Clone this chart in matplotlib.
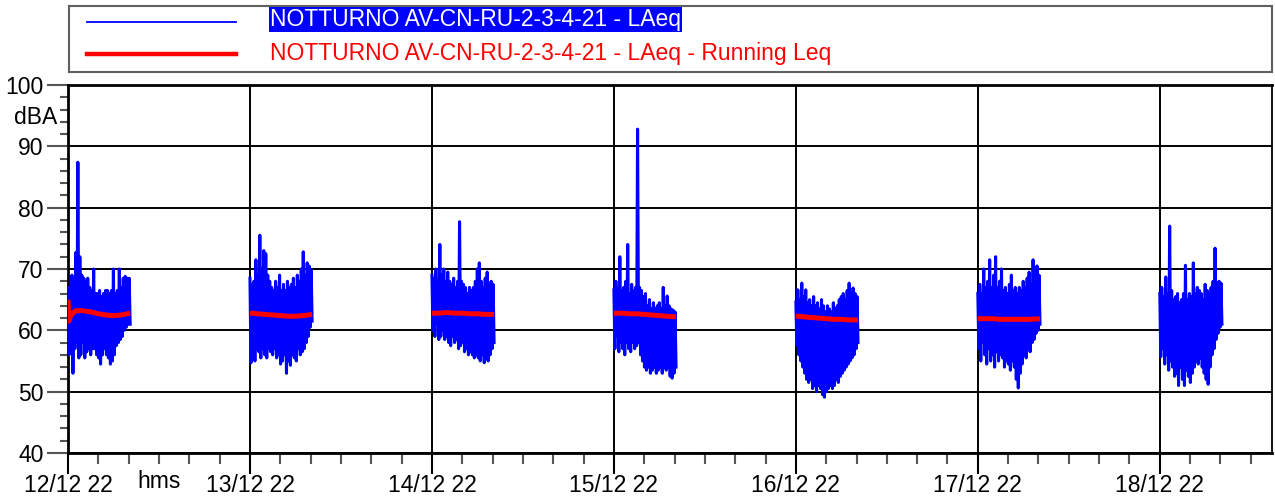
import numpy as np
import matplotlib

matplotlib.use("Agg")
import matplotlib.pyplot as plt
from matplotlib.ticker import MultipleLocator

plt.rcParams["font.family"] = ["Liberation Sans", "DejaVu Sans"]

# --- data (hours from 12/12 00:00) ------------------------------------------
DAY_LABELS = ["12/12 22", "13/12 22", "14/12 22", "15/12 22",
              "16/12 22", "17/12 22", "18/12 22"]
NIGHT_SPAN_H = 8.2
SERIES_LAEQ = "NOTTURNO AV-CN-RU-2-3-4-21 - LAeq"
SERIES_RLEQ = "NOTTURNO AV-CN-RU-2-3-4-21 - LAeq - Running Leq"

# LAeq, upper / lower swings for each night
LAEQ_HI = [
    [67, 66, 69, 68, 72.7, 87.4, 72, 69, 68.5, 68, 68.5, 67, 66.5, 70, 66, 66,
     66.5, 65.5, 66, 66.5, 66.5, 66, 66.5, 70, 66, 66.5, 70, 67, 68.5, 68.8, 68.5, 68.5],
    [68.5, 67.5, 68, 71.5, 69, 75.5, 70, 73, 72.5, 69, 68, 67, 66.5, 68, 67, 69,
     66.5, 67.5, 66.5, 68, 67, 67.5, 68.5, 67, 69, 68, 70, 72.8, 69, 71, 70.5, 69.8],
    [69, 68.5, 70, 68, 74, 69, 70, 68, 69.5, 68, 67.5, 68.5, 67, 68, 77.7, 68,
     67.5, 67, 66, 67, 66.5, 67, 68, 70, 71, 68, 67, 68.5, 69.5, 67.5, 68, 67.5],
    [66.6, 68, 67, 72, 66.5, 67, 68, 74, 66, 67.5, 66.5, 67, 92.8, 67, 66.5, 65.5,
     66, 64, 65, 63.5, 64.5, 63.5, 64, 64.5, 63.5, 67, 64, 65.6, 64, 63.5, 63.3, 63],
    [64.6, 66.6, 65, 67.7, 65.5, 66.6, 64.5, 65, 64, 65.5, 64, 64.5, 63.5, 65, 64, 63,
     64, 63.5, 63, 64.5, 63.5, 64, 65, 65.5, 66, 65, 66.5, 67.7, 66, 66.9, 66, 65.5],
    [66, 67.5, 66, 70, 67, 68, 71.5, 67, 69, 72, 67, 68, 70, 66.5, 67, 66,
     67.5, 69, 66.5, 67, 66, 67, 66.5, 68, 67, 68.5, 69.5, 67.5, 71.5, 68, 70.5, 69],
    [66, 67, 65.5, 68.7, 66, 77, 66.5, 65, 65.5, 66, 64.5, 65, 66, 70.6, 65, 66,
     65.5, 71, 66, 67, 66.5, 66, 65, 67.5, 66.5, 66, 67, 68, 73.4, 67.5, 68, 67.7],
]
LAEQ_LO = [
    [56, 60, 53, 57, 58, 55.5, 56, 58, 55.5, 56.5, 57, 56, 57, 57, 56, 55.5,
     54.5, 56, 57, 56, 55.5, 54.5, 55, 56, 57.5, 58, 58.5, 59, 60, 60.5, 61, 61],
    [54.7, 56, 55, 57, 56.5, 55.5, 57, 56, 55.5, 57, 56.5, 56, 57, 55.5, 56, 54.5,
     55, 56, 53, 55, 54.3, 56, 55.5, 55, 57, 56, 56.5, 57, 58, 59, 60.5, 61.5],
    [60, 59, 61, 58.5, 59, 60, 58.5, 59, 58, 57.5, 59, 58, 58.5, 57, 57.5, 58,
     56.5, 57, 56, 56.5, 56, 55.5, 56, 55.5, 55, 56, 54.7, 55.5, 55, 56, 57, 58],
    [57, 59, 56.5, 58, 57, 56, 58, 57, 56.5, 58, 57, 57.5, 58, 56, 55, 54,
     53.5, 54, 53, 53.5, 54, 53, 53.5, 54, 53, 54, 53.5, 54, 52.5, 52.2, 53, 54],
    [57.5, 56, 55, 54, 53, 52, 51.5, 52, 50.5, 51, 50, 51, 50.5, 49.5, 49.1, 50,
     50.5, 51, 50.5, 51, 52, 51.5, 52.5, 53, 53.5, 54, 54.5, 55, 55.5, 56, 57, 58],
    [57, 55, 58, 56, 54.5, 57, 55, 56, 54, 56.5, 55, 56, 55.5, 54, 55, 54.5,
     53.5, 55, 54, 52, 50.6, 53, 54.5, 56, 55.5, 57, 56.5, 58, 58.5, 59.5, 60, 61],
    [55.7, 57, 54.5, 56, 53.5, 55, 54, 52.5, 53, 51, 54, 52, 51, 53.5, 52.5, 51.5,
     53, 54, 55, 54.5, 55.5, 54, 53, 52, 51.2, 54, 56, 57, 58.5, 59.5, 60.5, 61],
]

# running Leq, hours after start of each night
RLEQ_T = [0.0, 0.1, 0.4, 1.0, 2.0, 3.0, 4.0, 5.0, 6.0, 7.0, 8.2]
RLEQ_V = [
    [65.0, 61.5, 62.5, 63.2, 63.2, 63.0, 62.7, 62.5, 62.4, 62.5, 62.8],
    [62.8, 62.8, 62.8, 62.7, 62.6, 62.5, 62.4, 62.3, 62.3, 62.4, 62.6],
    [62.8, 62.8, 62.8, 62.8, 62.9, 62.8, 62.8, 62.7, 62.7, 62.6, 62.6],
    [62.8, 62.8, 62.8, 62.8, 62.7, 62.7, 62.6, 62.5, 62.4, 62.3, 62.2],
    [62.3, 62.3, 62.3, 62.2, 62.1, 62.0, 61.9, 61.8, 61.8, 61.7, 61.7],
    [61.9, 61.9, 61.9, 61.9, 61.9, 61.8, 61.8, 61.8, 61.8, 61.8, 61.9],
]

X_MAX_H = 158.8
W, H = 1275, 498
FS = 16.5


def main():
    fig = plt.figure(figsize=(W / 100, H / 100), dpi=100)
    ax = fig.add_axes([68 / W, 1 - 453 / H, (1272 - 68) / W, (453 - 85) / H])

    for night, (hi, lo) in enumerate(zip(LAEQ_HI, LAEQ_LO)):
        vals = np.ravel(np.column_stack([hi, lo]))
        t = 24 * night + np.linspace(0, NIGHT_SPAN_H, len(vals))
        ax.plot(t, vals, color="#0000FF", lw=2.2, zorder=3)
    for night, vals in enumerate(RLEQ_V):
        t = 24 * night + np.array(RLEQ_T)
        ax.plot(t, vals, color="#FF0000", lw=3.6, zorder=4,
                solid_capstyle="butt")

    ax.set_xlim(0, X_MAX_H)
    ax.set_ylim(40, 100)

    ax.set_xticks([24 * i for i in range(len(DAY_LABELS))])
    ax.set_xticklabels(DAY_LABELS)
    ax.xaxis.set_minor_locator(MultipleLocator(4))
    ax.yaxis.set_major_locator(MultipleLocator(10))
    ax.yaxis.set_minor_locator(MultipleLocator(2))
    ax.tick_params(axis="both", which="major", labelsize=FS, width=1.5)
    ax.tick_params(axis="x", which="major", length=15, color="black", pad=0)
    ax.tick_params(axis="x", which="minor", length=8, width=1.5, color="#555555")
    ax.tick_params(axis="y", which="major", length=15, color="#555555", pad=2.5)
    ax.tick_params(axis="y", which="minor", length=6, width=1.5, color="#555555")

    ax.grid(True, which="major", color="black", lw=1.4, zorder=1)
    for side in ("left", "bottom", "top"):
        ax.spines[side].set_linewidth(2)
    ax.spines["right"].set_linewidth(1.3)

    fig.text(36 / W, 1 - 117 / H, "dBA", fontsize=FS, ha="center", va="center")
    fig.text(159 / W, 1 - 481 / H, "hms", fontsize=FS, ha="center", va="center")

    # legend box
    lg = fig.add_axes([69 / W, 1 - 72 / H, (1272 - 69) / W, 66 / H])
    lg.set_xlim(0, 1203)
    lg.set_ylim(66, 0)
    lg.set_xticks([])
    lg.set_yticks([])
    for sp in lg.spines.values():
        sp.set_color("#606060")
        sp.set_linewidth(1.5)
    lg.plot([18, 167], [16, 16], color="#0000FF", lw=1.3)
    lg.plot([18, 167], [48.5, 48.5], color="#FF0000", lw=3.2)
    lg.text(201, 13.5, SERIES_LAEQ, fontsize=FS, color="white", va="center",
            bbox=dict(boxstyle="square,pad=0.04", facecolor="#0000FF", edgecolor="none"))
    lg.text(201, 47.5, SERIES_RLEQ, fontsize=FS, color="#FF0000", va="center")

    fig.savefig("out.png", dpi=100)
    plt.close(fig)


if __name__ == "__main__":
    main()
